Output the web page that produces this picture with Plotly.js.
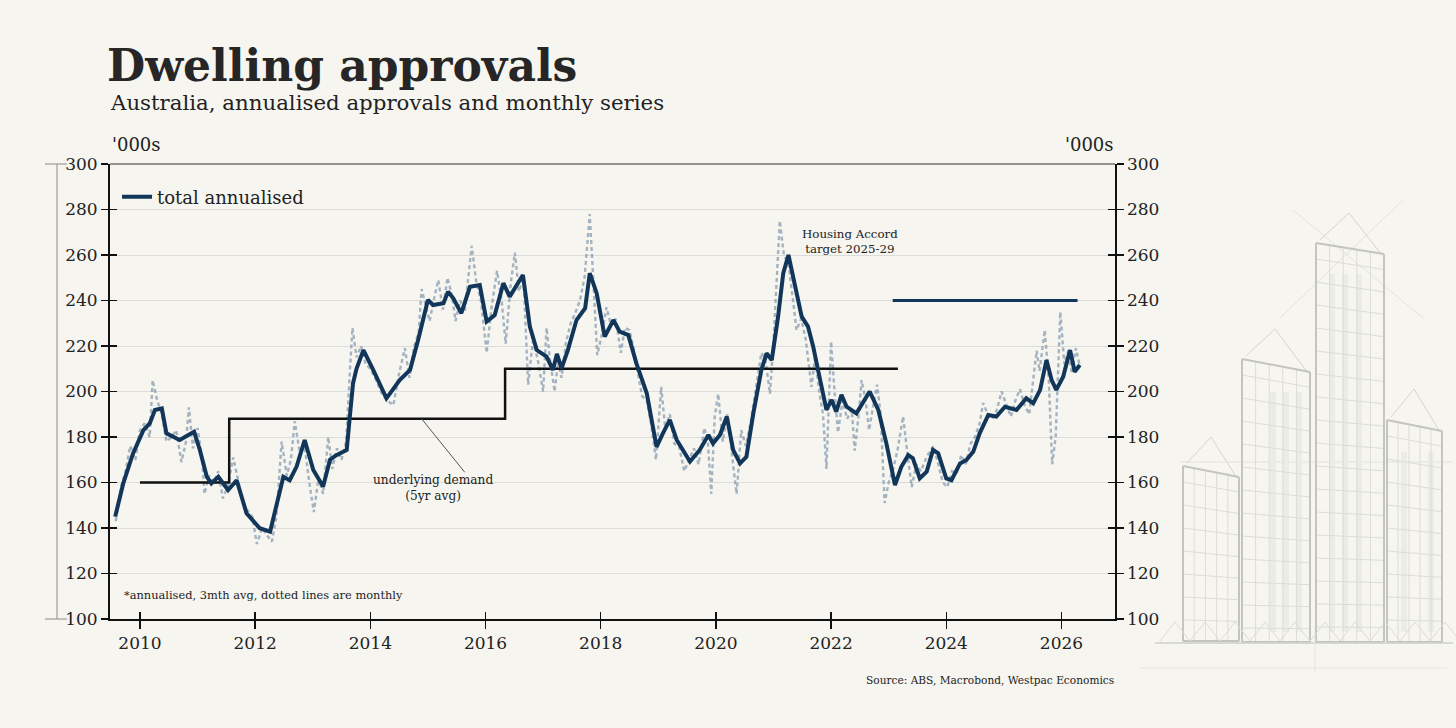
<!DOCTYPE html>
<html>
<head>
<meta charset="utf-8">
<script src="https://cdn.plot.ly/plotly-3.0.1.min.js"></script>
<style>
  html, body { margin: 0; padding: 0; background: #f6f5f0; }
  #chart { width: 1456px; height: 728px; }
</style>
</head>
<body>
<div id="chart"></div>
<script>
// total annualised, 3mth avg ('000s)
var avgDates = [2009.57, 2009.71, 2009.88, 2010.06, 2010.17, 2010.26, 2010.38, 2010.46, 2010.69, 2010.80,
  2010.94, 2011.04, 2011.16, 2011.24, 2011.36, 2011.53, 2011.68, 2011.85, 2012.08, 2012.26,
  2012.37, 2012.49, 2012.60, 2012.72, 2012.86, 2013.01, 2013.18, 2013.30, 2013.41, 2013.59,
  2013.65, 2013.70, 2013.76, 2013.88, 2014.05, 2014.28, 2014.51, 2014.69, 2014.83, 2015.00,
  2015.09, 2015.27, 2015.35, 2015.44, 2015.58, 2015.73, 2015.90, 2016.02, 2016.16, 2016.31,
  2016.42, 2016.65, 2016.77, 2016.89, 2017.06, 2017.17, 2017.24, 2017.32, 2017.43, 2017.58,
  2017.73, 2017.81, 2017.93, 2018.07, 2018.22, 2018.33, 2018.48, 2018.62, 2018.80, 2018.97,
  2019.08, 2019.20, 2019.32, 2019.55, 2019.72, 2019.87, 2019.95, 2020.07, 2020.19, 2020.30,
  2020.42, 2020.53, 2020.65, 2020.79, 2020.88, 2020.97, 2021.08, 2021.17, 2021.26, 2021.34,
  2021.49, 2021.60, 2021.69, 2021.78, 2021.92, 2022.01, 2022.09, 2022.18, 2022.27, 2022.44,
  2022.67, 2022.82, 2022.96, 2023.11, 2023.22, 2023.34, 2023.42, 2023.54, 2023.66, 2023.77,
  2023.86, 2024.00, 2024.09, 2024.24, 2024.35, 2024.47, 2024.58, 2024.73, 2024.87, 2025.02,
  2025.22, 2025.39, 2025.51, 2025.63, 2025.74, 2025.83, 2025.91, 2026.03, 2026.15, 2026.23, 2026.32];
var avgValues = [145, 159.6, 172.8, 183, 186, 191.9, 192.6, 181.6, 178.7, 180.4,
  182.3, 174.3, 162.6, 159.6, 162.5, 156.7, 161, 146.5, 139.9, 138.4,
  150.8, 162.5, 161, 167, 178.7, 165.5, 158.2, 170, 172, 174.3,
  190.5, 203.6, 210, 218.2, 209.5, 197, 205, 209.5, 222.6, 240.2,
  238, 238.8, 243.9, 241, 234.4, 246, 246.8, 230.7, 233.6, 247.6,
  241.7, 251.2, 228.5, 218.2, 215.3, 209.5, 216.5, 210.2, 218.2, 231.4,
  236.6, 252, 243.2, 224.1, 231.4, 226.3, 224.8, 212.4, 199.2, 175.7,
  181.6, 187.5, 178.7, 169.2, 174.3, 180.9, 177.2, 180.9, 189, 174.3,
  168.4, 171.3, 190.4, 209.5, 216.8, 213.8, 232.9, 252, 260, 250.5,
  232.9, 228.5, 219.7, 208.7, 191.9, 196.3, 191.1, 198.5, 193.3, 190.4,
  200, 191.9, 177.2, 158.9, 166.9, 172, 170.6, 161.8, 164.8, 174.3,
  172.8, 161.8, 161, 168.4, 169.9, 173.6, 181.6, 189.7, 189, 193.3,
  191.9, 197, 194.8, 200.7, 213.8, 205, 200.7, 206.5, 218.2, 208.7, 211.6];

// monthly annualised series (dotted)
var monthDates = [2009.58, 2009.67, 2009.75, 2009.83, 2009.92, 2010.00, 2010.08, 2010.17, 2010.22, 2010.30,
  2010.38, 2010.46, 2010.55, 2010.63, 2010.72, 2010.80, 2010.85, 2010.92, 2011.00, 2011.08,
  2011.12, 2011.20, 2011.28, 2011.36, 2011.44, 2011.52, 2011.62, 2011.70, 2011.78, 2011.86,
  2011.95, 2012.03, 2012.12, 2012.20, 2012.29, 2012.37, 2012.46, 2012.55, 2012.62, 2012.69,
  2012.78, 2012.86, 2012.94, 2013.02, 2013.10, 2013.18, 2013.27, 2013.34, 2013.42, 2013.50,
  2013.58, 2013.65, 2013.69, 2013.76, 2013.84, 2013.92, 2014.00, 2014.10, 2014.20, 2014.30,
  2014.40, 2014.50, 2014.60, 2014.68, 2014.76, 2014.84, 2014.89, 2014.96, 2015.03, 2015.10,
  2015.18, 2015.26, 2015.34, 2015.42, 2015.48, 2015.56, 2015.64, 2015.70, 2015.76, 2015.84,
  2015.92, 2016.02, 2016.10, 2016.20, 2016.28, 2016.35, 2016.44, 2016.51, 2016.58, 2016.66,
  2016.74, 2016.82, 2016.90, 2017.00, 2017.06, 2017.12, 2017.20, 2017.26, 2017.32, 2017.40,
  2017.48, 2017.55, 2017.64, 2017.72, 2017.81, 2017.88, 2017.94, 2018.02, 2018.10, 2018.18,
  2018.26, 2018.35, 2018.42, 2018.50, 2018.58, 2018.66, 2018.72, 2018.80, 2018.88, 2018.96,
  2019.05, 2019.12, 2019.20, 2019.28, 2019.36, 2019.45, 2019.54, 2019.62, 2019.70, 2019.80,
  2019.86, 2019.92, 2019.98, 2020.04, 2020.12, 2020.20, 2020.28, 2020.36, 2020.44, 2020.52,
  2020.60, 2020.68, 2020.75, 2020.79, 2020.86, 2020.94, 2021.00, 2021.06, 2021.11, 2021.18,
  2021.26, 2021.34, 2021.40, 2021.48, 2021.56, 2021.66, 2021.72, 2021.80, 2021.86, 2021.92,
  2022.00, 2022.06, 2022.12, 2022.20, 2022.28, 2022.36, 2022.41, 2022.48, 2022.53, 2022.60,
  2022.66, 2022.74, 2022.80, 2022.86, 2022.93, 2023.00, 2023.08, 2023.16, 2023.25, 2023.32,
  2023.40, 2023.48, 2023.56, 2023.64, 2023.70, 2023.78, 2023.86, 2023.94, 2024.02, 2024.10,
  2024.18, 2024.26, 2024.34, 2024.42, 2024.50, 2024.58, 2024.64, 2024.72, 2024.80, 2024.88,
  2024.96, 2025.04, 2025.12, 2025.20, 2025.28, 2025.36, 2025.44, 2025.50, 2025.57, 2025.62,
  2025.71, 2025.78, 2025.84, 2025.90, 2025.98, 2026.05, 2026.12, 2026.18, 2026.25, 2026.32];
var monthValues = [143, 158, 165, 176, 170, 183, 186, 180, 205, 196,
  190, 178, 180, 183, 169, 178, 193, 175, 184, 170,
  155, 163, 160, 165, 153, 158, 171, 162, 152, 148,
  145, 133, 140, 137, 134, 145, 178, 163, 170, 187,
  172, 176, 160, 147, 162, 155, 180, 166, 175, 170,
  178, 211, 228, 215, 220, 212, 210, 205, 199, 196,
  194, 208, 219, 206, 220, 226, 245, 238, 231, 240,
  249, 236, 250, 242, 231, 240, 235, 250, 264, 248,
  240, 217, 236, 253, 240, 221, 248, 261, 244, 250,
  203, 222, 215, 200, 228, 214, 200, 213, 206, 222,
  230, 234, 240, 250, 278, 245, 216, 225, 237, 229,
  232, 217, 228, 227, 218, 206, 198, 196, 185, 170,
  202, 184, 190, 177, 176, 165, 170, 175, 168, 184,
  178, 155, 189, 199, 178, 190, 172, 155, 183, 176,
  186, 200, 210, 217, 214, 199, 222, 250, 275, 260,
  256, 240, 227, 232, 223, 202, 215, 199, 190, 166,
  222, 200, 182, 196, 188, 192, 174, 190, 205, 196,
  183, 195, 203, 190, 151, 160, 166, 175, 189, 174,
  158, 168, 165, 170, 173, 176, 168, 160, 158, 165,
  164, 172, 168, 177, 180, 186, 195, 190, 188, 192,
  200, 194, 189, 196, 201, 194, 190, 203, 218, 209,
  227, 205, 168, 180, 235, 212, 218, 208, 219, 211];

// underlying demand (5yr avg), step line
var demandDates = [2010.0, 2011.55, 2011.55, 2016.34, 2016.34, 2023.16];
var demandValues = [160, 160, 188, 188, 210, 210];

// Housing Accord target 2025-29
var targetDates = [2023.07, 2026.28];
var targetValues = [240, 240];

var yearTicks = [2010, 2012, 2014, 2016, 2018, 2020, 2022, 2024, 2026];

var NAVY = '#12365a';
var FONT = 'DejaVu Serif, Liberation Serif, serif';
var INK = '#222222';

// plot area in pixels, used for the decoration drawn beside the chart
var L = 110, R = 1115, T = 164, B = 619;
function px(x) { return (x - L) / (R - L); }
function py(y) { return (B - y) / (B - T); }

var shapes = [];
function seg(x0, y0, x1, y1, color, w) {
	shapes.push({
		type : 'line', xref : 'paper', yref : 'paper',
		x0 : px(x0), y0 : py(y0), x1 : px(x1), y1 : py(y1),
		line : { color : color, width : w }
	});
}
function bar(x0, y0, x1, y1, color) {
	shapes.push({
		type : 'rect', xref : 'paper', yref : 'paper',
		x0 : px(x0), y0 : py(y0), x1 : px(x1), y1 : py(y1),
		fillcolor : color, line : { width : 0 }
	});
}

// sketched towers on the right
function tower(l, r, tl, tr, bot, apexX, apexY, bars, barTop) {
	var i;
	for (i = 0; i < bars.length; i++) {
		bar(bars[i] - 3, barTop, bars[i] + 3, bot - 10, '#ebebe7');
	}
	// window grid
	for (var y = tl + 16; y < bot - 6; y += 23) {
		var f = 1 - (y - tl) / (bot - tl);
		seg(l, y, r, y + (tr - tl) * f, '#dcdcd8', 1);
	}
	for (i = 1; i < 5; i++) {
		var x = l + i * (r - l) / 5;
		seg(x, tl + (tr - tl) * i / 5, x, bot, '#dcdcd8', 1);
	}
	// roof sketch
	seg(l + 4, tl - 3, apexX, apexY, '#d4d4d0', 1);
	seg(apexX, apexY, r - 2, tr + 1, '#d4d4d0', 1);
	// outline
	seg(l, tl, r, tr, '#c4c4c0', 2);
	seg(l, tl, l, bot, '#c4c4c0', 2);
	seg(r, tr, r, bot, '#c4c4c0', 2);
	seg(l, bot, r, bot, '#c4c4c0', 2);
}

seg(1293, 210, 1423, 318, '#e2e2de', 1);
seg(1280, 318, 1403, 200, '#e2e2de', 1);
seg(1180, 462, 1453, 462, '#e2e2de', 1);
tower(1183, 1239, 466, 477, 641, 1211, 437, [], 0);
tower(1242, 1310, 359, 372, 642, 1275, 329, [1273, 1286, 1299], 392);
tower(1316, 1384, 243, 254, 642, 1349, 213, [1332, 1345, 1359], 274);
tower(1387, 1442, 420, 431, 642, 1414, 389, [1404, 1431], 452);
seg(1155, 643, 1453, 643, '#cfcfcb', 1.5);
seg(1140, 668, 1447, 668, '#e4e4e0', 1);
seg(1315, 633, 1315, 673, '#e4e4e0', 1);
for (var zx = 1160; zx < 1440; zx += 30) {
	seg(zx, 641, zx + 15, 622, '#dcdcd8', 1);
	seg(zx + 15, 622, zx + 30, 641, '#dcdcd8', 1);
}

// thin bracket left of the axis
seg(57, 164, 57, 619, '#8a8a8a', 1);
seg(45, 164, 67, 164, '#8a8a8a', 1);
seg(45, 619, 67, 619, '#8a8a8a', 1);

// leader line for the demand label
shapes.push({
	type : 'line', xref : 'x', yref : 'y',
	x0 : 2014.89, y0 : 188, x1 : 2015.64, y1 : 164.5,
	line : { color : '#555555', width : 1 }
});

var data = [
	{
		x : monthDates, y : monthValues, type : 'scatter', mode : 'lines',
		line : { color : 'rgba(110,135,160,0.6)', width : 2.4, dash : '4px,3px' },
		showlegend : false, hoverinfo : 'skip'
	},
	{
		x : demandDates, y : demandValues, type : 'scatter', mode : 'lines',
		line : { color : '#111111', width : 2.5 },
		showlegend : false
	},
	{
		x : targetDates, y : targetValues, type : 'scatter', mode : 'lines',
		line : { color : NAVY, width : 2.8 },
		showlegend : false
	},
	{
		x : avgDates, y : avgValues, type : 'scatter', mode : 'lines',
		name : 'total annualised',
		line : { color : NAVY, width : 4 }
	},
	// empty traces so the extra tick axes are drawn
	{ x : [2012], y : [null], type : 'scatter', yaxis : 'y2', showlegend : false, hoverinfo : 'skip' },
	{ x : [2012], y : [null], type : 'scatter', xaxis : 'x2', yaxis : 'y3', showlegend : false, hoverinfo : 'skip' },
	{ x : [2012], y : [null], type : 'scatter', xaxis : 'x2', yaxis : 'y4', showlegend : false, hoverinfo : 'skip' }
];

var tickFont = { family : FONT, size : 17, color : INK };
var xRange = [2009.48, 2026.93];
var yRange = [100, 300];

var layout = {
	width : 1456,
	height : 728,
	paper_bgcolor : '#f6f5f0',
	plot_bgcolor : '#f6f5f0',
	margin : { l : L, r : 1456 - R, t : T, b : 728 - B, pad : 0 },
	title : {
		text : '<b>Dwelling approvals</b>',
		font : { family : FONT, size : 44, color : '#262626' },
		xref : 'container', yref : 'container',
		x : 107 / 1456, xanchor : 'left',
		y : 1 - 66 / 728, yanchor : 'middle'
	},
	showlegend : true,
	legend : {
		x : 0.007, y : py(197), xanchor : 'left', yanchor : 'middle',
		bgcolor : 'rgba(0,0,0,0)',
		font : { family : FONT, size : 18, color : INK },
		itemwidth : 30
	},
	xaxis : {
		range : xRange,
		tickvals : yearTicks,
		ticktext : yearTicks.map(String),
		ticks : 'outside', ticklen : 8, tickwidth : 1.5, tickcolor : '#111',
		showline : true, linecolor : '#111', linewidth : 2,
		showgrid : false, zeroline : false,
		tickfont : tickFont
	},
	xaxis2 : {
		range : xRange, overlaying : 'x', side : 'bottom',
		tickvals : yearTicks, ticks : 'inside', ticklen : 7, tickwidth : 1.5, tickcolor : '#111',
		showticklabels : false, showline : false, showgrid : false, zeroline : false
	},
	yaxis : {
		range : yRange, dtick : 20,
		ticks : 'outside', ticklen : 7, tickwidth : 1.5, tickcolor : '#111',
		showline : true, linecolor : '#111', linewidth : 2,
		showgrid : true, gridcolor : '#dcdcd8', gridwidth : 1,
		zeroline : false,
		tickfont : tickFont
	},
	yaxis2 : {
		range : yRange, dtick : 20, overlaying : 'y', side : 'right',
		ticks : 'outside', ticklen : 7, tickwidth : 1.5, tickcolor : '#111',
		showline : true, linecolor : '#111', linewidth : 1.5,
		showgrid : false, zeroline : false,
		tickfont : tickFont
	},
	yaxis3 : {
		range : yRange, dtick : 20, overlaying : 'y', side : 'left',
		ticks : 'inside', ticklen : 7, tickwidth : 1.5, tickcolor : '#111',
		showticklabels : false, showline : false, showgrid : false, zeroline : false
	},
	yaxis4 : {
		range : yRange, dtick : 20, overlaying : 'y', side : 'right',
		ticks : 'inside', ticklen : 7, tickwidth : 1.5, tickcolor : '#111',
		showticklabels : false, showline : false, showgrid : false, zeroline : false
	},
	shapes : shapes.concat([
		{ type : 'line', xref : 'paper', yref : 'paper', x0 : 0, x1 : 1, y0 : 1, y1 : 1,
		  line : { color : '#333', width : 1.2 } }
	]),
	annotations : [
		{ text : 'Australia, annualised approvals and monthly series', xref : 'paper', yref : 'paper',
		  x : px(108), y : py(102), xanchor : 'left', yanchor : 'middle', showarrow : false,
		  font : { family : FONT, size : 21.3, color : INK } },
		{ text : "'000s", xref : 'paper', yref : 'paper', x : px(110), y : py(145),
		  xanchor : 'left', yanchor : 'middle', showarrow : false, font : { family : FONT, size : 18, color : INK } },
		{ text : "'000s", xref : 'paper', yref : 'paper', x : px(1116), y : py(145),
		  xanchor : 'right', yanchor : 'middle', showarrow : false, font : { family : FONT, size : 18, color : INK } },
		{ text : 'Housing Accord<br>target 2025-29', xref : 'x', yref : 'y', x : 2022.33, y : 266,
		  showarrow : false, font : { family : FONT, size : 11.8, color : INK } },
		{ text : 'underlying demand<br>(5yr avg)', xref : 'x', yref : 'y', x : 2015.09, y : 157.5,
		  showarrow : false, font : { family : FONT, size : 12.2, color : INK } },
		{ text : '*annualised, 3mth avg, dotted lines are monthly', xref : 'paper', yref : 'paper',
		  x : px(122), y : py(595), xanchor : 'left', yanchor : 'middle', showarrow : false,
		  font : { family : FONT, size : 11.4, color : INK } },
		{ text : 'Source: ABS, Macrobond, Westpac Economics', xref : 'paper', yref : 'paper',
		  x : px(1116), y : py(680), xanchor : 'right', yanchor : 'middle', showarrow : false,
		  font : { family : FONT, size : 10.6, color : INK } }
	]
};

Plotly.newPlot('chart', data, layout, { staticPlot : true });
</script>
</body>
</html>
